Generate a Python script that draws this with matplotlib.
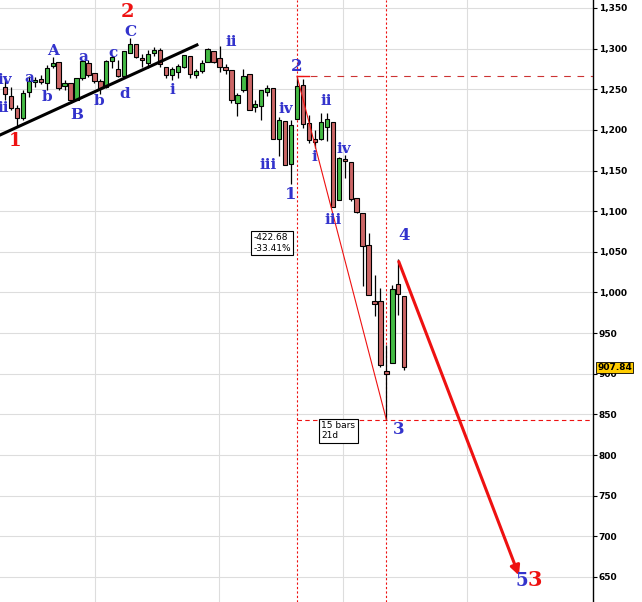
import matplotlib as mpl; mpl.use("Agg")
import matplotlib.pyplot as plt
from matplotlib.ticker import FuncFormatter, MultipleLocator

# ── Candles (open, high, low, close) ────────────────────────────────────────
opens = [1252.8, 1241.7, 1227.0, 1214.7, 1246.6, 1259.0, 1262.6, 1257.7, 1278.7, 1283.6,
         1254.0, 1257.7, 1236.8, 1263.9, 1282.3, 1270.0, 1260.2, 1252.8, 1284.8, 1274.9,
         1266.3, 1294.6, 1305.7, 1288.5, 1282.3, 1294.6, 1298.3, 1277.4, 1267.5, 1271.3,
         1277.4, 1290.9, 1267.5, 1272.5, 1283.6, 1297.1, 1288.5, 1277.4, 1273.7, 1233.1,
         1249.1, 1268.8, 1228.2, 1229.4, 1246.6, 1251.6, 1188.8, 1211.0, 1158.1, 1213.4,
         1255.3, 1208.5, 1188.8, 1188.8, 1203.6, 1209.7, 1113.6, 1164.2, 1160.5, 1116.2,
         1097.8, 1058.4, 989.5, 989.5, 903.4, 913.2, 1010.4, 995.6]
highs = [1261.4, 1252.8, 1230.7, 1249.1, 1266.3, 1265.1, 1267.5, 1279.9, 1289.7, 1283.6,
         1261.4, 1257.7, 1263.9, 1286.0, 1286.0, 1270.0, 1262.6, 1286.0, 1292.2, 1286.0,
         1297.1, 1313.1, 1305.7, 1293.4, 1298.3, 1302.0, 1300.8, 1277.4, 1277.4, 1281.1,
         1292.2, 1290.9, 1274.9, 1286.0, 1300.8, 1297.1, 1303.2, 1281.1, 1273.7, 1245.4,
         1274.9, 1268.8, 1236.8, 1249.1, 1255.3, 1251.6, 1215.9, 1211.0, 1212.2, 1265.1,
         1262.0, 1218.4, 1199.9, 1220.8, 1220.8, 1209.7, 1166.7, 1169.1, 1160.5, 1116.2,
         1097.8, 1073.1, 1021.5, 1005.5, 935.4, 1009.2, 1041.2, 995.6]
lows = [1236.8, 1224.5, 1203.6, 1212.2, 1240.5, 1252.8, 1256.5, 1249.1, 1276.2, 1249.1,
        1249.1, 1233.1, 1236.8, 1261.4, 1265.1, 1257.7, 1244.2, 1251.6, 1276.2, 1265.1,
        1263.9, 1294.6, 1288.5, 1277.4, 1276.2, 1290.9, 1277.4, 1263.9, 1261.4, 1263.9,
        1276.2, 1263.9, 1263.9, 1270.0, 1283.6, 1282.3, 1271.3, 1268.8, 1233.1, 1217.1,
        1246.6, 1224.5, 1222.0, 1212.2, 1241.7, 1188.8, 1167.9, 1156.8, 1133.5, 1213.4,
        1202.2, 1183.7, 1177.8, 1187.6, 1186.3, 1105.2, 1113.6, 1140.9, 1112.5, 1097.8,
        1008.0, 996.9, 971.1, 908.3, 843.1, 913.2, 972.3, 904.6]
closes = [1244.2, 1227.0, 1214.7, 1245.4, 1260.2, 1261.4, 1259.0, 1276.2, 1282.3, 1251.6,
          1257.7, 1236.8, 1263.9, 1284.8, 1267.5, 1260.2, 1251.6, 1284.8, 1289.7, 1266.3,
          1297.1, 1305.7, 1289.7, 1286.0, 1293.4, 1298.3, 1281.1, 1267.5, 1274.9, 1278.7,
          1292.2, 1268.8, 1272.5, 1282.3, 1299.6, 1283.6, 1277.4, 1273.7, 1236.8, 1243.0,
          1266.3, 1224.5, 1231.9, 1249.1, 1251.6, 1188.8, 1212.2, 1156.8, 1206.1, 1254.0,
          1207.3, 1187.4, 1185.1, 1209.7, 1213.4, 1105.2, 1165.5, 1161.8, 1115.0, 1099.0,
          1057.2, 996.9, 985.8, 910.8, 899.7, 1004.3, 998.1, 908.3]

last_price = 907.84
peak2_idx, peak2_price = 49, 1266.0
low3_idx, low3_price = 64, 843.1
trend_x, trend_y = [-0.84, 32.2], [1193.7, 1304.5]
proj_x, proj_y = [65.9, 86.4], [1041.2, 648.7]

BLUE = "#3333cc"
RED = "#ee1111"
UP, DN = "#44bb44", "#cc6666"

fig = plt.figure(figsize=(6.42, 6.02), dpi=100)
ax = fig.add_axes([0, 0, 593 / 642, 1])
ax.set_xlim(-0.84, 98.66)
ax.set_ylim(619.2, 1359.8)

ax.yaxis.set_major_locator(MultipleLocator(50))
ax.yaxis.tick_right()
ax.yaxis.set_major_formatter(FuncFormatter(lambda v, p: f"{v:,.0f}"))
ax.tick_params(axis="y", direction="out", length=3, labelsize=6.5, pad=1)
for t in ax.get_yticklabels():
    t.set_fontweight("bold")
ax.set_xticks([15.1, 35.9, 56.7, 77.5])
ax.tick_params(axis="x", length=0, labelbottom=False)
ax.grid(color="#dddddd", lw=0.8)
ax.set_axisbelow(True)
for s in ["top", "left", "bottom"]:
    ax.spines[s].set_visible(False)
ax.spines["right"].set_linewidth(1.0)

for i, (o, h, l, c) in enumerate(zip(opens, highs, lows, closes)):
    col = UP if c >= o else DN
    ax.vlines(i, l, h, color="black", lw=0.9, zorder=3)
    lo, hi = min(o, c), max(o, c)
    ax.bar(i, max(hi - lo, 1.5), bottom=lo, width=0.72, color=col,
           edgecolor="black", lw=0.8, zorder=4)

# trend / wave lines
ax.plot(trend_x, trend_y, color="black", lw=2.2, zorder=5)
ax.axvline(peak2_idx, color=RED, ls=(0, (2, 2)), lw=0.8, zorder=2)
ax.axvline(low3_idx, color=RED, ls=(0, (2, 2)), lw=0.8, zorder=2)
ax.plot([peak2_idx, 98.66], [peak2_price, peak2_price], color="#cc3333",
        ls=(0, (6, 6)), lw=0.8, zorder=2)
ax.plot([peak2_idx, 98.66], [low3_price, low3_price], color=RED,
        ls=(0, (4, 3)), lw=0.8, zorder=2)
ax.plot([peak2_idx, peak2_idx + 2], [peak2_price, peak2_price], color=RED, lw=1.0, zorder=5)
ax.plot([peak2_idx, low3_idx], [peak2_price, low3_price], color=RED, lw=0.8, zorder=5)
ax.annotate("", xy=(proj_x[1], proj_y[1]), xytext=(proj_x[0], proj_y[0]),
            arrowprops=dict(arrowstyle="-|>", color=RED, lw=2.2, mutation_scale=14),
            zorder=6)

# wave labels (index, price, text, colour, size)
labels = [
    (1.7, 1186, "1", RED, 13), (0.0, 1261, "iv", BLUE, 11), (-0.3, 1227, "ii", BLUE, 11),
    (4.0, 1264, "a", BLUE, 11), (8.0, 1297, "A", BLUE, 11), (7.0, 1240, "b", BLUE, 11),
    (12.0, 1218, "B", BLUE, 11), (13.1, 1290, "a", BLUE, 11), (15.8, 1235, "b", BLUE, 11),
    (18.1, 1295, "c", BLUE, 11), (21.0, 1321, "C", BLUE, 11), (20.6, 1345, "2", RED, 14),
    (20.0, 1244, "d", BLUE, 11), (28.0, 1249, "i", BLUE, 11), (37.9, 1308, "ii", BLUE, 11),
    (44.2, 1157, "iii", BLUE, 11), (48.0, 1120, "1", BLUE, 12), (47.2, 1226, "iv", BLUE, 11),
    (49.0, 1278, "2", BLUE, 12), (53.9, 1236, "ii", BLUE, 11), (51.9, 1167, "i", BLUE, 11),
    (56.9, 1176, "iv", BLUE, 11), (55.0, 1089, "iii", BLUE, 11), (67.0, 1070, "4", BLUE, 12),
    (66.0, 831, "3", BLUE, 12), (86.7, 645, "5", BLUE, 13),
]
for x, y, t, c, s in labels:
    ax.text(x, y, t, color=c, fontsize=s, fontweight="bold", family="DejaVu Serif",
            ha="center", va="center", zorder=7)
ax.text(88.9, 646, "3", color=RED, fontsize=15, fontweight="bold", family="DejaVu Serif",
        ha="center", va="center", zorder=7)

box = dict(boxstyle="square,pad=0.25", fc="white", ec="black", lw=0.8)
ax.text(41.7, 1061, "-422.68\n-33.41%", fontsize=6.5, ha="left", va="center",
        linespacing=1.2, bbox=box, zorder=8)
ax.text(53.1, 830, "15 bars\n21d", fontsize=6.5, ha="left", va="center",
        linespacing=1.2, bbox=box, zorder=8)

ax.text(1.007, last_price, f"{last_price:.2f}", transform=ax.get_yaxis_transform(),
        fontsize=6.5, fontweight="bold", ha="left", va="center",
        bbox=dict(boxstyle="square,pad=0.15", fc="#ffcc00", ec="black", lw=0.6), zorder=9)

fig.savefig("out.png", dpi=100, facecolor="white")
